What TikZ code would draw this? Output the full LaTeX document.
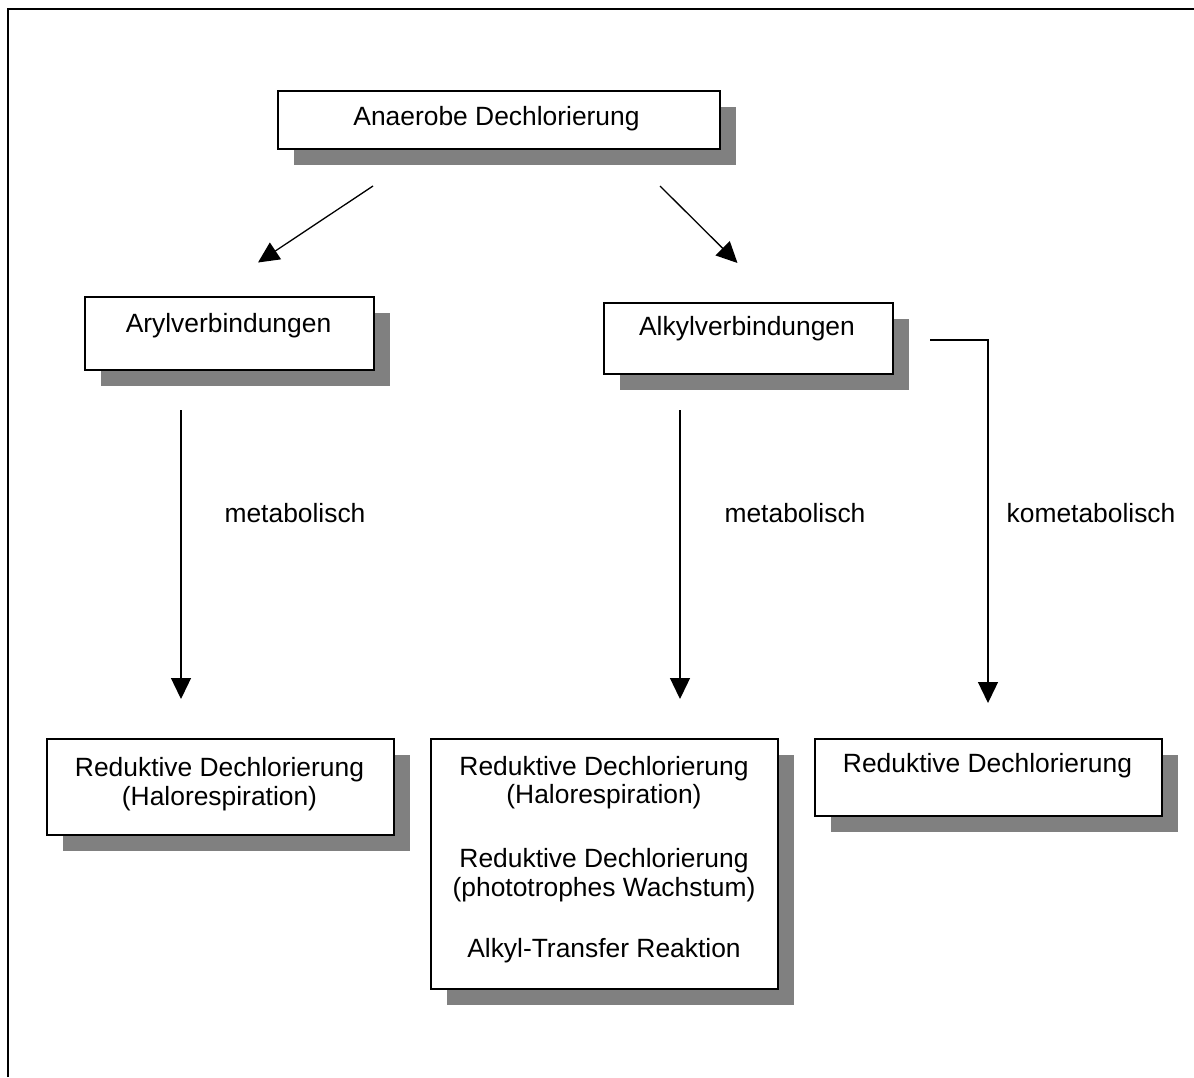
\documentclass[tikz,border=0pt]{standalone}
\usepackage{fontspec}
\setmainfont{Liberation Sans}
\usetikzlibrary{arrows.meta,shadows}
\definecolor{shade}{HTML}{808080}
\begin{document}
\begin{tikzpicture}[x=0.5pt,y=-0.5pt,
  box/.style={draw=black, line width=0.9pt, fill=white, inner sep=0pt, anchor=north west,
    general shadow={fill=shade, shadow xshift=8.25pt, shadow yshift=-8.25pt}},
  lbl/.style={font=\fontsize{13.2pt}{14.5pt}\selectfont, anchor=base, inner sep=0pt},
  arr/.style={line width=0.65pt, -{Triangle[length=10.5pt,width=10pt]}},
  frame/.style={line width=1pt}]
\useasboundingbox (0,0) rectangle (1194,1077);
% frame
\coordinate (fbl) at (8,1077);
\coordinate (ftl) at (8,9);
\coordinate (ftr) at (1194,9);
\draw[frame] (fbl) -- (ftl) -- (ftr);
% boxes
\node[box, minimum width=221pt, minimum height=29pt] (top) at (277,90) {};
\node[box, minimum width=144.5pt, minimum height=36.5pt] (aryl) at (84,296) {};
\node[box, minimum width=144.5pt, minimum height=35.5pt] (alkyl) at (603,302) {};
\node[box, minimum width=173.5pt, minimum height=48pt] (res1) at (46,738) {};
\node[box, minimum width=173.5pt, minimum height=125pt] (res2) at (430,738) {};
\node[box, minimum width=173.5pt, minimum height=38.5pt] (res3) at (814,738) {};
% texts
\node[lbl] (ttop) at (496.5,125.5) {Anaerobe Dechlorierung};
\node[lbl] (taryl) at (228.5,332) {Arylverbindungen};
\node[lbl] (talkyl) at (747,335) {Alkylverbindungen};
\node[lbl] (t1a) at (219.5,776) {Reduktive Dechlorierung};
\node[lbl] (t1b) at (219.5,805) {(Halorespiration)};
\node[lbl] (t2a) at (604,775) {Reduktive Dechlorierung};
\node[lbl] (t2b) at (604,803.5) {(Halorespiration)};
\node[lbl] (t2c) at (604,867) {Reduktive Dechlorierung};
\node[lbl] (t2d) at (604,896) {(phototrophes Wachstum)};
\node[lbl] (t2e) at (604,957) {Alkyl-Transfer Reaktion};
\node[lbl] (t3a) at (987.5,772.5) {Reduktive Dechlorierung};
% edge labels
\node[lbl] (m1) at (295,522) {metabolisch};
\node[lbl] (m2) at (795,522) {metabolisch};
\node[lbl] (m3) at (1091,522) {kometabolisch};
% connector ends
\coordinate (dl0) at (373,186);
\coordinate (dl1) at (258,262.5);
\coordinate (dr0) at (660,186);
\coordinate (dr1) at (737.5,263);
\coordinate (vl0) at (181,410);
\coordinate (vl1) at (181,699);
\coordinate (vm0) at (680,410);
\coordinate (vm1) at (680,699);
\coordinate (vr0) at (930,340);
\coordinate (vr1) at (988,703);
% connectors
\draw[arr] (dl0) -- (dl1);
\draw[arr] (dr0) -- (dr1);
\draw[arr] (vl0) -- (vl1);
\draw[arr] (vm0) -- (vm1);
\draw[arr] (vr0) -| (vr1);
\end{tikzpicture}
\end{document}
